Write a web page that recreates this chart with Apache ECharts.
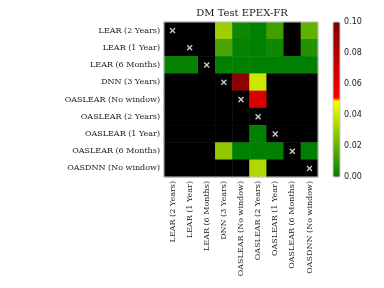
<!DOCTYPE html>
<html><head><meta charset="utf-8">
<script src="https://cdn.jsdelivr.net/npm/echarts@6/dist/echarts.min.js"></script>
<style>html,body{margin:0;padding:0;background:#fff}#c{width:384px;height:288px}</style>
</head><body><div id="c"></div>
<script>
const models = ['LEAR (2 Years)','LEAR (1 Year)','LEAR (6 Months)','DNN (3 Years)','OASLEAR (No window)','OASLEAR (2 Years)','OASLEAR (1 Year)','OASLEAR (6 Months)','OASDNN (No window)'];
// p-values: row = model on y axis, column = model on x axis (1 = not significant / diagonal)
const row0 = [1, 1, 1, 0.031, 0.003, 0.000, 0.0125, 1, 0.019];
const row1 = [1, 1, 1, 0.014, 0.001, 0.000, 0.003, 1, 0.007];
const row2 = [0.001, 0.001, 1, 0.000, 0.000, 0.000, 0.000, 0.000, 0.000];
const row3 = [1, 1, 1, 1, 0.093, 0.040, 1, 1, 1];
const row4 = [1, 1, 1, 1, 1, 0.064, 1, 1, 1];
const row5 = [1, 1, 1, 1, 1, 1, 1, 1, 1];
const row6 = [1, 1, 1, 1, 1, 0.000, 1, 1, 1];
const row7 = [1, 1, 1, 0.028, 0.000, 0.000, 0.000, 1, 0.000];
const row8 = [1, 1, 1, 1, 1, 0.034, 1, 1, 1];
const rows = [row0,row1,row2,row3,row4,row5,row6,row7,row8];
const cbTicks = [0, 0.02, 0.04, 0.06, 0.08, 0.10];

// colormap (listed, 100 colours): green->yellow, then red->dark red, last black
function hex(v){const s=Math.round(v*255).toString(16);return s.length<2?'0'+s:s;}
const cmap=[];
for(let i=0;i<100;i++){
  let r,g;
  if(i<50){r=i/49; g=0.5+0.5*i/49;}
  else if(i<99){r=1-0.5*(i-49)/49; g=0;}
  else {r=0; g=0;}
  cmap.push('#'+hex(r)+hex(g)+'00');
}

const heat=[];
rows.forEach((row,i)=>row.forEach((v,j)=>heat.push([j,i,v])));
const diag=models.map((m,i)=>[i,i]);

const serif='DejaVu Serif';
const chart=echarts.init(document.getElementById('c'));
chart.setOption({
  animation:false,
  title:{text:'DM Test EPEX-FR',left:242,top:8,padding:0,textAlign:'center',
    textStyle:{fontFamily:serif,fontSize:10,fontWeight:'normal',color:'#1a1a1a'}},
  grid:[
    {left:164,top:22,width:154,height:155,show:true,borderColor:'#c8c8c8',borderWidth:1,z:5,backgroundColor:'transparent'},
    {left:333,top:22,width:7,height:155,show:true,borderColor:'#c8c8c8',borderWidth:1,z:5,backgroundColor:'transparent'}
  ],
  xAxis:[
    {type:'category',data:models,gridIndex:0,position:'bottom',
     axisLine:{show:false},axisTick:{show:false},
     splitLine:{show:false},
     axisLabel:{rotate:90,interval:0,margin:4,fontFamily:serif,fontSize:8,color:'#1a1a1a'}},
    {type:'value',gridIndex:1,show:false,min:0,max:1}
  ],
  yAxis:[
    {type:'category',data:models,gridIndex:0,inverse:true,
     axisLine:{show:false},axisTick:{show:false},
     splitLine:{show:false},
     axisLabel:{interval:0,margin:4,fontFamily:serif,fontSize:8,color:'#1a1a1a'}},
    {type:'value',gridIndex:1,position:'right',min:0,max:0.1,interval:0.02,
     axisLine:{show:false},axisTick:{show:false},
     splitLine:{show:false},
     axisLabel:{margin:4,fontFamily:'DejaVu Sans',fontSize:8,color:'#1a1a1a',formatter:v=>v.toFixed(2)}}
  ],
  visualMap:{type:'continuous',min:0,max:0.1,seriesIndex:0,calculable:false,
    left:333,top:22,itemWidth:7,itemHeight:155,padding:0,text:null,showLabel:false,
    inRange:{color:cmap},outOfRange:{color:'#000'}},
  series:[
    {type:'heatmap',xAxisIndex:0,yAxisIndex:0,data:heat,itemStyle:{borderWidth:0},emphasis:{disabled:true}},
    {type:'scatter',xAxisIndex:0,yAxisIndex:0,data:diag,symbolSize:6,z:4,
     symbol:'path://M0,0.16L0.16,0L0.5,0.34L0.84,0L1,0.16L0.66,0.5L1,0.84L0.84,1L0.5,0.66L0.16,1L0,0.84L0.34,0.5Z',
     itemStyle:{color:'#fff'}}
  ]
});
</script></body></html>
